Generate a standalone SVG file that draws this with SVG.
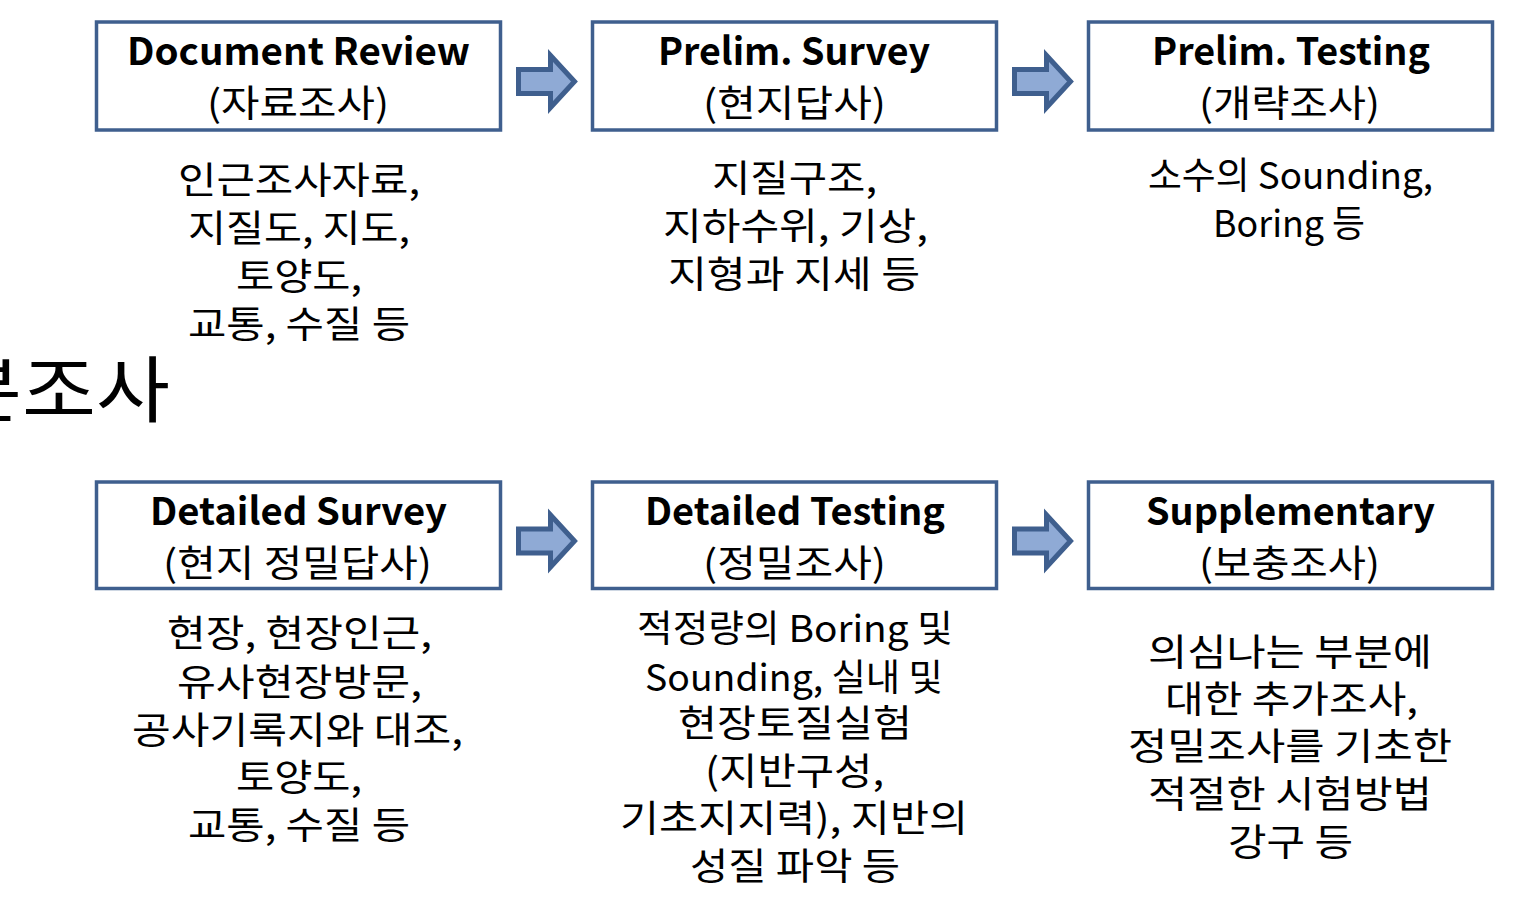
<svg xmlns="http://www.w3.org/2000/svg" width="1520" height="911" viewBox="0 0 1520 911">
<style>
.box{fill:#fff;stroke:#3F5F8E;stroke-width:3.5}
.arrow{fill:#8FAAD5;stroke:#3F5F8E;stroke-width:5;stroke-linejoin:miter}
text{font-family:"Noto Sans CJK KR","Noto Sans",sans-serif;fill:#000;text-anchor:middle}
.t{font-weight:bold;font-size:38px}
.s{font-size:37px}
.d{font-size:37px}
.big{font-size:72px;text-anchor:start}
</style>
<defs>
<path id="arr" d="M2.5,-12 H34.5 V-26 L58.5,0 L34.5,26 V12 H2.5 Z"/>
</defs>
<rect width="1520" height="911" fill="#fff"/>
<text class="big" x="-52" y="416" textLength="222" lengthAdjust="spacingAndGlyphs">본조사</text>
<g id="connectors">
<use href="#arr" class="arrow" transform="translate(516,81.5)"/>
<use href="#arr" class="arrow" transform="translate(1012,81.5)"/>
<use href="#arr" class="arrow" transform="translate(516,541)"/>
<use href="#arr" class="arrow" transform="translate(1012,541)"/>
</g>
<g id="document-review">
<rect class="box" x="96.5" y="22" width="404" height="108"/>
<text class="t" x="298.5" y="65" textLength="343" lengthAdjust="spacingAndGlyphs">Document Review</text>
<text class="s" x="298" y="117" textLength="182" lengthAdjust="spacingAndGlyphs">(자료조사)</text>
<text class="d" x="299" y="194" textLength="242" lengthAdjust="spacingAndGlyphs">인근조사자료,</text>
<text class="d" x="299" y="242" textLength="222" lengthAdjust="spacingAndGlyphs">지질도, 지도,</text>
<text class="d" x="299" y="290" textLength="126" lengthAdjust="spacingAndGlyphs">토양도,</text>
<text class="d" x="299" y="338" textLength="222" lengthAdjust="spacingAndGlyphs">교통, 수질 등</text>
</g>
<g id="prelim-survey">
<rect class="box" x="592.5" y="22" width="404" height="108"/>
<text class="t" x="794" y="65" textLength="272" lengthAdjust="spacingAndGlyphs">Prelim. Survey</text>
<text class="s" x="794.5" y="117" textLength="183" lengthAdjust="spacingAndGlyphs">(현지답사)</text>
<text class="d" x="794.5" y="192" textLength="165" lengthAdjust="spacingAndGlyphs">지질구조,</text>
<text class="d" x="795.5" y="240" textLength="265" lengthAdjust="spacingAndGlyphs">지하수위, 기상,</text>
<text class="d" x="794" y="288" textLength="252" lengthAdjust="spacingAndGlyphs">지형과 지세 등</text>
</g>
<g id="prelim-testing">
<rect class="box" x="1088.5" y="22" width="404" height="108"/>
<text class="t" x="1291" y="65" textLength="278" lengthAdjust="spacingAndGlyphs">Prelim. Testing</text>
<text class="s" x="1289.5" y="117" textLength="181" lengthAdjust="spacingAndGlyphs">(개략조사)</text>
<text class="d" x="1290.5" y="189" textLength="285" lengthAdjust="spacingAndGlyphs">소수의 Sounding,</text>
<text class="d" x="1289" y="237" textLength="152" lengthAdjust="spacingAndGlyphs">Boring 등</text>
</g>
<g id="detailed-survey">
<rect class="box" x="96.5" y="482" width="404" height="106.5"/>
<text class="t" x="298.5" y="525" textLength="297" lengthAdjust="spacingAndGlyphs">Detailed Survey</text>
<text class="s" x="297.5" y="577" textLength="269" lengthAdjust="spacingAndGlyphs">(현지 정밀답사)</text>
<text class="d" x="299.5" y="647" textLength="265" lengthAdjust="spacingAndGlyphs">현장, 현장인근,</text>
<text class="d" x="299.5" y="696" textLength="245" lengthAdjust="spacingAndGlyphs">유사현장방문,</text>
<text class="d" x="297.5" y="744" textLength="331" lengthAdjust="spacingAndGlyphs">공사기록지와 대조,</text>
<text class="d" x="299" y="791" textLength="126" lengthAdjust="spacingAndGlyphs">토양도,</text>
<text class="d" x="299" y="839" textLength="222" lengthAdjust="spacingAndGlyphs">교통, 수질 등</text>
</g>
<g id="detailed-testing">
<rect class="box" x="592.5" y="482" width="404" height="106.5"/>
<text class="t" x="795" y="525" textLength="300" lengthAdjust="spacingAndGlyphs">Detailed Testing</text>
<text class="s" x="794.5" y="577" textLength="183" lengthAdjust="spacingAndGlyphs">(정밀조사)</text>
<text class="d" x="795" y="642" textLength="316" lengthAdjust="spacingAndGlyphs">적정량의 Boring 및</text>
<text class="d" x="794" y="691" textLength="298" lengthAdjust="spacingAndGlyphs">Sounding, 실내 및</text>
<text class="d" x="795" y="737" textLength="234" lengthAdjust="spacingAndGlyphs">현장토질실험</text>
<text class="d" x="794.5" y="785" textLength="179" lengthAdjust="spacingAndGlyphs">(지반구성,</text>
<text class="d" x="794" y="832" textLength="348" lengthAdjust="spacingAndGlyphs">기초지지력), 지반의</text>
<text class="d" x="795" y="880" textLength="210" lengthAdjust="spacingAndGlyphs">성질 파악 등</text>
</g>
<g id="supplementary">
<rect class="box" x="1088.5" y="482" width="404" height="106.5"/>
<text class="t" x="1290.5" y="525" textLength="289" lengthAdjust="spacingAndGlyphs">Supplementary</text>
<text class="s" x="1289.5" y="577" textLength="181" lengthAdjust="spacingAndGlyphs">(보충조사)</text>
<text class="d" x="1290" y="666" textLength="284" lengthAdjust="spacingAndGlyphs">의심나는 부분에</text>
<text class="d" x="1291.5" y="713" textLength="253" lengthAdjust="spacingAndGlyphs">대한 추가조사,</text>
<text class="d" x="1290" y="760" textLength="324" lengthAdjust="spacingAndGlyphs">정밀조사를 기초한</text>
<text class="d" x="1290" y="808" textLength="284" lengthAdjust="spacingAndGlyphs">적절한 시험방법</text>
<text class="d" x="1290.5" y="856" textLength="125" lengthAdjust="spacingAndGlyphs">강구 등</text>
</g>
</svg>
